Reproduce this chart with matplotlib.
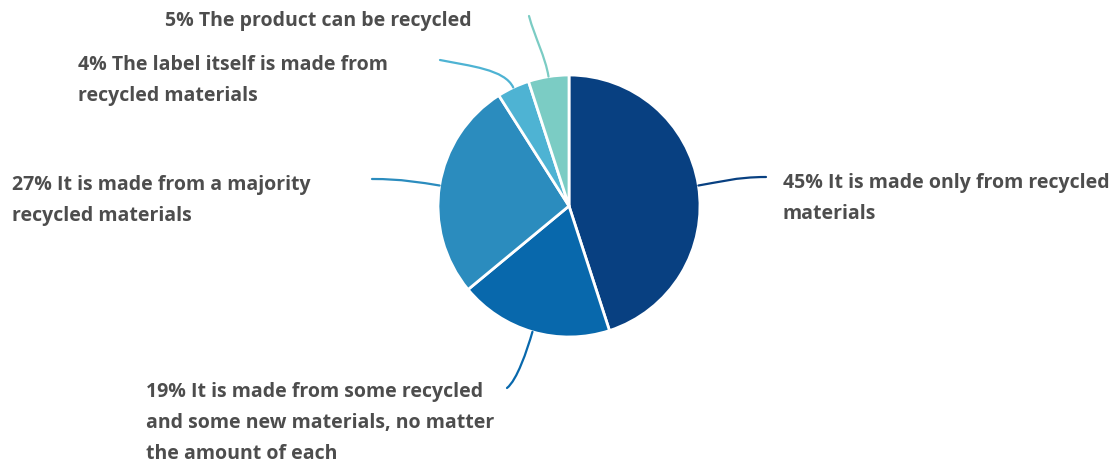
import numpy as np
import matplotlib.pyplot as plt
from matplotlib.path import Path
from matplotlib.patches import PathPatch

plt.rcParams['font.family'] = ['Open Sans', 'DejaVu Sans']

# answer shares, clockwise from 12 o'clock
shares = [45, 19, 27, 4, 5]
answers = [
    'It is made only from recycled\nmaterials',
    'It is made from some recycled\nand some new materials, no matter\nthe amount of each',
    'It is made from a majority\nrecycled materials',
    'The label itself is made from\nrecycled materials',
    'The product can be recycled',
]
colors = ['#084081', '#0868ac', '#2b8cbe', '#4eb3d3', '#7bccc4']

W, H = 1112, 468
fig = plt.figure(figsize=(W / 100, H / 100), dpi=100)
ax = fig.add_axes([0, 0, 1, 1])

cx, cy, r = 569, H - 206, 131
wedges, _ = ax.pie(shares, colors=colors, startangle=90, counterclock=False,
                   center=(cx, cy), radius=r, frame=True,
                   wedgeprops=dict(edgecolor='white', linewidth=2))
ax.set_xlim(0, W)
ax.set_ylim(0, H)
ax.set_aspect('equal')
ax.axis('off')

# label anchor (text x, first-line centre y) and connector end, pixels from top-left
label_pos = [(783, 181), (146, 390), (12, 183), (78, 63), (472, 19)]
label_ha = ['left', 'left', 'left', 'left', 'right']
conn_end = [(766, 177), (507, 388), (372, 179), (440, 60), (529, 16)]
# offset of the last control point from the connector end (x right, y up)
conn_bend = [(-30, 0), (10, 8), (30, 0), (30, -6), (6, -22)]

for w, pct, txt, (lx, ly), ha, (ex, ey), (bx, by) in zip(
        wedges, shares, answers, label_pos, label_ha, conn_end, conn_bend):
    ang = np.deg2rad((w.theta1 + w.theta2) / 2)
    ux, uy = np.cos(ang), np.sin(ang)
    p0 = (cx + r * ux, cy + r * uy)
    p1 = (cx + (r + 20) * ux, cy + (r + 20) * uy)
    ey = H - ey
    path = Path([p0, p1, (ex + bx, ey + by), (ex, ey)],
                [Path.MOVETO, Path.CURVE4, Path.CURVE4, Path.CURVE4])
    ax.add_patch(PathPatch(path, fc='none', ec=w.get_facecolor(), lw=1.6,
                           capstyle='round'))
    ax.text(lx, H - ly + 8, f'{pct}% {txt}', ha=ha, va='top',
            fontsize=14, fontweight='bold', color='#4d4d4d', linespacing=1.72)

fig.savefig('out.png', dpi=100)
